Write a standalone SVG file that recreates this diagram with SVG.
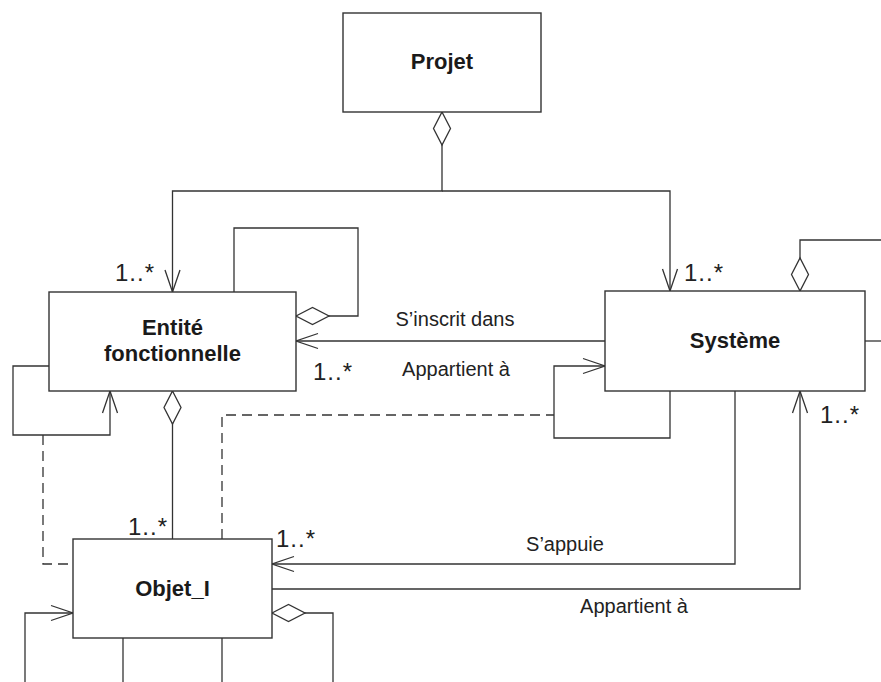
<svg xmlns="http://www.w3.org/2000/svg" width="881" height="682" viewBox="0 0 881 682">
<style>
.box{fill:#fff;stroke:#333;stroke-width:1.4}
.name{font-family:"Liberation Sans",Arial,sans-serif;font-size:22px;font-weight:bold;fill:#1a1a1a;text-anchor:middle}
.lbl{font-family:"Liberation Sans",Arial,sans-serif;font-size:20px;fill:#222;text-anchor:middle}
.mul{font-family:"Liberation Sans",Arial,sans-serif;font-size:24px;fill:#222;letter-spacing:1px}
.c{fill:none;stroke:#333;stroke-width:1.3}
.d{stroke-dasharray:10,6}
</style>
<defs>
<marker id="arrow" markerUnits="userSpaceOnUse" viewBox="-25 -10 27 20" refX="0" refY="0" markerWidth="27" markerHeight="20" orient="auto" overflow="visible">
<polyline points="-22,-7.5 0,0 -22,7.5" fill="none" stroke="#333" stroke-width="1.3"/>
</marker>
<marker id="diamond" markerUnits="userSpaceOnUse" viewBox="-1 -10 36 20" refX="0" refY="0" markerWidth="36" markerHeight="20" orient="auto" overflow="visible">
<polygon points="0,0 16.5,-8.5 33,0 16.5,8.5" fill="#fff" stroke="#333" stroke-width="1.3"/>
</marker>
</defs>

<g id="connectors">
<path class="c" d="M442,112 V191 H172.5 V292" marker-start="url(#diamond)" marker-end="url(#arrow)"/>
<path class="c" d="M442,191 H670 V291" marker-end="url(#arrow)"/>
<path class="c" d="M296,316 H358 V228 H234 V292" marker-start="url(#diamond)"/>
<path class="c" d="M605,341 H296" marker-end="url(#arrow)"/>
<path class="c" d="M670,391 V438 H554 V366 H605" marker-end="url(#arrow)"/>
<path class="c d" d="M222,539 V415 H554"/>
<path class="c" d="M49,366 H13 V435 H110 V391" marker-end="url(#arrow)"/>
<path class="c d" d="M43,435 V564 H73"/>
<path class="c" d="M172.5,391 V539" marker-start="url(#diamond)"/>
<path class="c" d="M735,391 V564 H272" marker-end="url(#arrow)"/>
<path class="c" d="M272,589 H800 V391" marker-end="url(#arrow)"/>
<path class="c" d="M800,291 V240 H881" marker-start="url(#diamond)"/>
<path class="c" d="M865,341 H881"/>
<path class="c" d="M25,682 V613 H73" marker-end="url(#arrow)"/>
<path class="c" d="M123,638 V682"/>
<path class="c" d="M222,638 V682"/>
<path class="c" d="M272,613 H333 V682" marker-start="url(#diamond)"/>
<text class="lbl" x="455" y="326">S’inscrit dans</text>
<text class="lbl" x="456" y="376">Appartient à</text>
<text class="lbl" x="565" y="551">S’appuie</text>
<text class="lbl" x="634" y="613">Appartient à</text>
<text class="mul" x="115" y="281">1..*</text>
<text class="mul" x="684" y="281">1..*</text>
<text class="mul" x="313" y="380">1..*</text>
<text class="mul" x="820" y="423">1..*</text>
<text class="mul" x="128" y="535">1..*</text>
<text class="mul" x="276" y="547">1..*</text>
</g>

<g id="projet">
<rect class="box" x="343" y="13" width="198" height="99"/>
<text class="name" x="442" y="69">Projet</text>
</g>
<g id="entite">
<rect class="box" x="49" y="292" width="247" height="99"/>
<text class="name" x="172.5" y="334.5">Entité</text>
<text class="name" x="172.5" y="361">fonctionnelle</text>
</g>
<g id="systeme">
<rect class="box" x="605" y="291" width="260" height="100"/>
<text class="name" x="735" y="348">Système</text>
</g>
<g id="objet">
<rect class="box" x="73" y="539" width="199" height="99"/>
<text class="name" x="172.5" y="596">Objet_I</text>
</g>
</svg>
